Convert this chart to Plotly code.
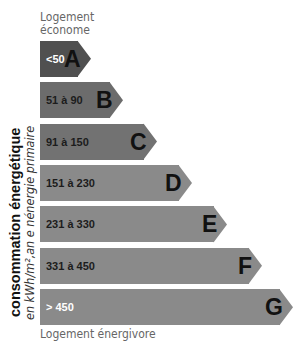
import plotly.graph_objects as go

classes = ["A", "B", "C", "D", "E", "F", "G"]
ranges = ["<50", "51 à 90", "91 à 150", "151 à 230", "231 à 330", "331 à 450", "> 450"]
body_len = [38, 70, 104, 139, 174, 209, 240]
tip_len = 13
colors = ["#505050", "#6c6c6c", "#727272", "#8a8a8a", "#8a8a8a", "#8a8a8a", "#8a8a8a"]
range_colors = ["#ffffff", "#1c1c1c", "#1c1c1c", "#1c1c1c", "#1c1c1c", "#1c1c1c", "#ffffff"]

FONT = "Liberation Sans Narrow, Arial Narrow, DejaVu Sans Condensed, sans-serif"
BOLD = "Liberation Sans, Arial, sans-serif"
half = 0.435
idx = list(range(len(classes)))

W, H = 293, 341
ml, mr, mt, mb = 40, 0, 38, 13
pw, ph = W - ml - mr, H - mt - mb

def px(x):
    return (x - ml) / pw

def py(y):
    return (H - y - mb) / ph

fig = go.Figure()
fig.add_trace(go.Bar(
    orientation="h", x=body_len, y=idx, width=2 * half,
    marker=dict(color=colors, line=dict(width=0)), hoverinfo="skip",
))
for i, (L, c) in enumerate(zip(body_len, colors)):
    fig.add_trace(go.Scatter(
        x=[L - 0.5, L + tip_len, L - 0.5, L - 0.5],
        y=[i - half, i, i + half, i - half],
        fill="toself", fillcolor=c, mode="lines", line=dict(width=0, color=c),
        hoverinfo="skip",
    ))

ann = []
for i, (r, rc, cl, L) in enumerate(zip(ranges, range_colors, classes, body_len)):
    ann.append(dict(x=4, y=i, xref="x", yref="y", text="<b>" + r + "</b>", showarrow=False,
                    xanchor="left", yanchor="middle",
                    font=dict(family=BOLD, size=11, color=rc)))
    ann.append(dict(x=L + 5, y=i, xref="x", yref="y", text="<b>" + cl + "</b>", showarrow=False,
                    xanchor="right", yanchor="middle",
                    font=dict(family=BOLD, size=23, color="#111111")))

ann.append(dict(x=px(38), y=py(8), xref="paper", yref="paper", text="Logement",
                showarrow=False, xanchor="left", yanchor="top", align="left",
                font=dict(family=FONT, size=12, color="#666666")))
ann.append(dict(x=px(38), y=py(21), xref="paper", yref="paper", text="économe",
                showarrow=False, xanchor="left", yanchor="top", align="left",
                font=dict(family=FONT, size=12, color="#666666")))
ann.append(dict(x=px(38), y=py(325), xref="paper", yref="paper", text="Logement énergivore",
                showarrow=False, xanchor="left", yanchor="top", align="left",
                font=dict(family=FONT, size=12, color="#666666")))
ann.append(dict(x=px(15), y=py(223), xref="paper", yref="paper",
                text="<b>consommation énergétique</b>",
                showarrow=False, textangle=-90, xanchor="center", yanchor="middle",
                font=dict(family=BOLD, size=14.5, color="#111111")))
ann.append(dict(x=px(29), y=py(223), xref="paper", yref="paper",
                text="<i>en kWh/m²,an e nénergie primaire</i>",
                showarrow=False, textangle=-90, xanchor="center", yanchor="middle",
                font=dict(family=FONT, size=12.5, color="#333333")))

fig.update_layout(
    width=W, height=H, margin=dict(l=ml, r=mr, t=mt, b=mb, autoexpand=False),
    paper_bgcolor="white", plot_bgcolor="white", showlegend=False,
    bargap=0,
    xaxis=dict(range=[0, 253], visible=False, fixedrange=True),
    yaxis=dict(range=[6.5, -0.5], visible=False, fixedrange=True),
    annotations=ann,
)
fig.write_html("out.html", config={"displayModeBar": False},
               post_script="document.body.style.margin='0';document.body.style.overflow='hidden';")
